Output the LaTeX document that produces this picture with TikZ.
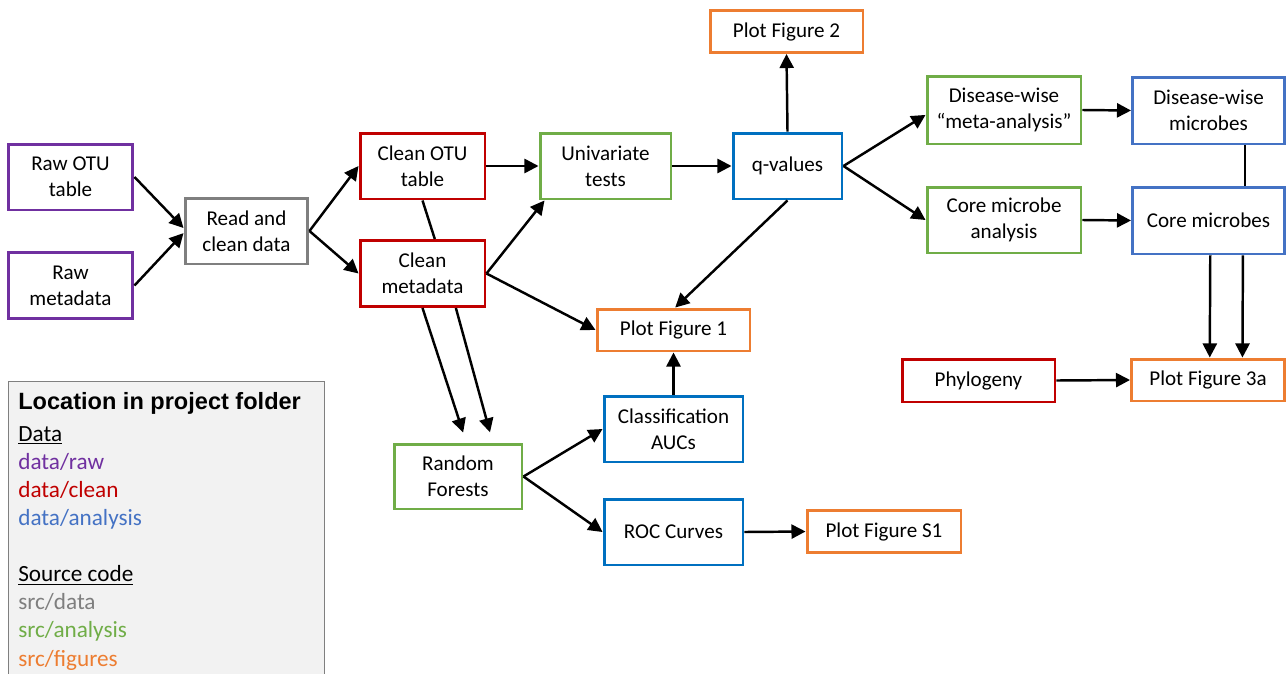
\documentclass[tikz,border=0pt]{standalone}
\usepackage{fontspec}
\setmainfont{Carlito}
\newfontfamily\legendHead{Liberation Sans}
\usetikzlibrary{arrows.meta,positioning}

\definecolor{rawPurple}{HTML}{7030A0}
\definecolor{cleanRed}{HTML}{C00000}
\definecolor{srcGray}{HTML}{7F7F7F}
\definecolor{anaGreen}{HTML}{70AD47}
\definecolor{figOrange}{HTML}{ED7D31}
\definecolor{resBlue}{HTML}{0070C0}
\definecolor{outBlue}{HTML}{4472C4}
\definecolor{legendFill}{HTML}{F2F2F2}

\begin{document}
\begin{tikzpicture}[
    x=0.02cm, y=-0.02cm,
    font=\fontsize{12pt}{14.7pt}\selectfont,
    box/.style={
        rectangle,
        draw,
        line width=1.7pt,
        align=center,
        inner sep=0pt,
        fill=white
    },
    rawBox/.style={box, draw=rawPurple, minimum width=2.5cm, minimum height=1.32cm},
    srcBox/.style={box, draw=srcGray, minimum width=2.46cm, minimum height=1.32cm},
    cleanBox/.style={box, draw=cleanRed, minimum width=2.5cm, minimum height=1.32cm},
    anaBox/.style={box, draw=anaGreen, minimum height=1.32cm},
    resBox/.style={box, draw=resBlue, minimum height=1.32cm},
    outBox/.style={box, draw=outBlue, minimum width=3.04cm, minimum height=1.34cm},
    figBox/.style={box, draw=figOrange, minimum width=3.06cm, minimum height=0.84cm},
    flowLine/.style={
        line width=1.4pt,
        draw=black,
        -{Triangle[length=8pt,width=8pt]}
    },
    plainLine/.style={
        line width=1.4pt,
        draw=black
    },
    legendBox/.style={
        rectangle,
        draw=srcGray,
        fill=legendFill,
        line width=0.7pt,
        inner sep=0pt
    }
]
\useasboundingbox (0,0) rectangle (1288,673);

% ==================== LEGEND ====================
\node[legendBox, anchor=north west, minimum width=6.32cm, minimum height=6.4cm] (legend) at (8,381) {};
\node[anchor=base west, align=left, inner sep=0pt, font=\fontsize{13.2pt}{16pt}\selectfont] (legendText) at (18,666) {%
    {\legendHead\fontsize{13.4pt}{16pt}\selectfont\bfseries Location in project folder}\\[2pt]
    \underline{Data}\\
    \textcolor{rawPurple}{data/raw}\\
    \textcolor{cleanRed}{data/clean}\\
    \textcolor{outBlue}{data/analysis}\\[16pt]
    \underline{Source code}\\
    \textcolor{srcGray}{src/data}\\
    \textcolor{anaGreen}{src/analysis}\\
    \textcolor{figOrange}{src/figures}};

% ==================== RAW DATA & CLEANING ====================
\node[rawBox] (rawOTU) at (70.5,177) {Raw OTU\\table};
\node[rawBox] (rawMeta) at (70.5,285.5) {Raw\\metadata};
\node[srcBox] (readClean) at (246.5,231) {Read and\\clean data};
\node[cleanBox] (cleanOTU) at (422.5,166) {Clean OTU\\table};
\node[cleanBox] (cleanMeta) at (422.5,273.5) {Clean\\metadata};

\draw[flowLine] (rawOTU.east) -- ([yshift=1.7pt]readClean.west);
\draw[flowLine] (rawMeta.east) -- ([yshift=-1.2pt]readClean.west);
\draw[flowLine] (readClean.east) -- (cleanOTU.west);
\draw[flowLine] (readClean.east) -- (cleanMeta.west);
\draw[plainLine] (cleanOTU.south) -- ([xshift=7pt]cleanMeta.north);

% ==================== UNIVARIATE ANALYSIS ====================
\node[anaBox, minimum width=2.62cm] (univariate) at (605.5,166) {Univariate\\tests};
\node[resBox, minimum width=2.18cm] (qValues) at (787.5,166) {q-values};
\node[figBox, minimum height=0.84cm] (plotFig2) at (786.5,31.5) {Plot Figure 2};
\node[figBox] (plotFig1) at (673.5,330) {Plot Figure 1};

\draw[flowLine] (cleanOTU.east) -- (univariate.west);
\draw[flowLine] (cleanMeta.east) -- ([xshift=3.4pt]univariate.south west);
\draw[flowLine] (cleanMeta.east) -- (plotFig1.west);
\draw[flowLine] (univariate.east) -- (qValues.west);
\draw[flowLine] (qValues.north) -- (plotFig2.south);
\draw[flowLine] (qValues.south) -- ([xshift=1pt]plotFig1.north);

% ==================== META-ANALYSIS ====================
\node[anaBox, minimum width=3.08cm, minimum height=1.36cm] (diseaseMeta) at (1004,110) {Disease-wise\\“meta-analysis”};
\node[anaBox, minimum width=3.08cm] (coreAnalysis) at (1004,220) {Core microbe\\analysis};
\node[outBox] (diseaseMicrobes) at (1208.5,110.5) {Disease-wise\\microbes};
\node[outBox] (coreMicrobes) at (1208.5,220.5) {Core microbes};
\node[cleanBox, minimum width=3.06cm, minimum height=0.86cm] (phylogeny) at (978.5,380.5) {Phylogeny};
\node[figBox] (plotFig3a) at (1208,380) {Plot Figure 3a};

\draw[flowLine] (qValues.east) -- ([yshift=-2.8pt]diseaseMeta.west);
\draw[flowLine] (qValues.east) -- (coreAnalysis.west);
\draw[flowLine] (diseaseMeta.east) -- (diseaseMicrobes.west);
\draw[flowLine] (coreAnalysis.east) -- (coreMicrobes.west);
\draw[plainLine] ([xshift=20.7pt]diseaseMicrobes.south) -- ([xshift=20.7pt]coreMicrobes.north);
\draw[flowLine] ([xshift=1pt]coreMicrobes.south) -- ([xshift=1pt]plotFig3a.north);
\draw[flowLine] ([xshift=19.6pt]coreMicrobes.south) -- ([xshift=19.6pt]plotFig3a.north);
\draw[flowLine] (phylogeny.east) -- (plotFig3a.west);

% ==================== RANDOM FORESTS ====================
\node[anaBox, minimum width=2.56cm, minimum height=1.3cm] (randomForest) at (458,476.5) {Random\\Forests};
\node[resBox, minimum width=2.78cm] (classAUC) at (673.5,429) {Classification\\AUCs};
\node[resBox, minimum width=2.78cm] (rocCurves) at (673.5,532) {ROC Curves};
\node[figBox, minimum width=3.08cm] (plotFigS1) at (884,531.5) {Plot Figure S1};

\draw[flowLine, shorten >=6pt] (cleanMeta.south) -- ([xshift=4.8pt]randomForest.north);
\draw[flowLine, shorten >=6pt] ([xshift=19pt]cleanMeta.south) -- ([xshift=19.8pt]randomForest.north);
\draw[flowLine] (classAUC.north) -- (plotFig1.south);
\draw[flowLine] (randomForest.east) -- (classAUC.west);
\draw[flowLine] (randomForest.east) -- (rocCurves.west);
\draw[flowLine] (rocCurves.east) -- (plotFigS1.west);

\end{tikzpicture}
\end{document}
